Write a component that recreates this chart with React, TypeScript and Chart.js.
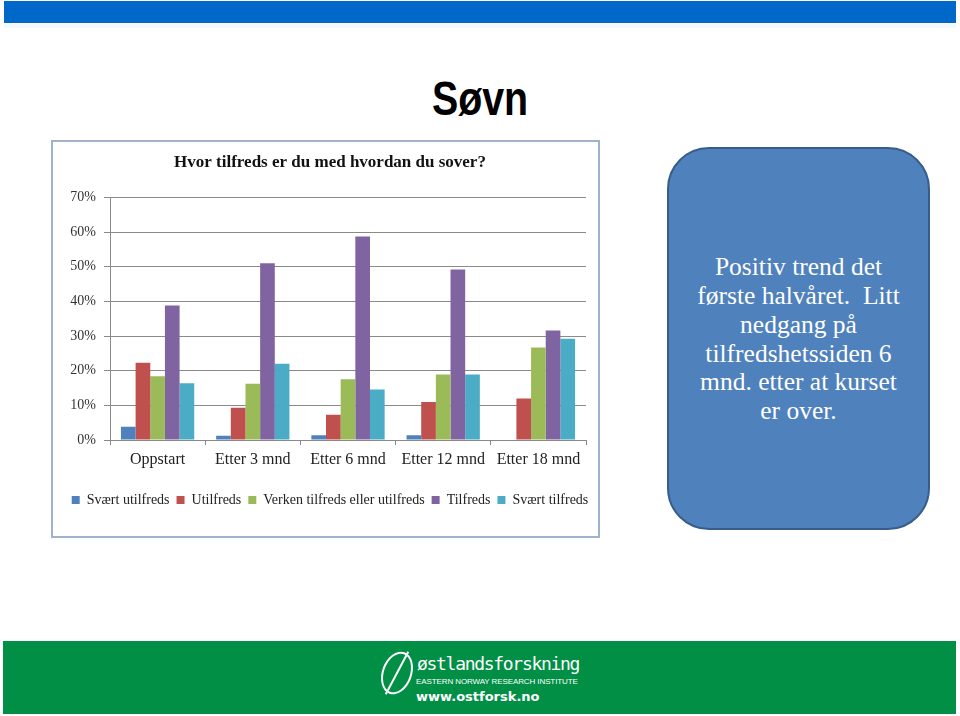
import React, { useEffect, useRef } from "react";
import { Chart, registerables } from "chart.js";

Chart.register(...registerables);

const categories = ["Oppstart", "Etter 3 mnd", "Etter 6 mnd", "Etter 12 mnd", "Etter 18 mnd"];
const seriesNames = [
  "Svært utilfreds",
  "Utilfreds",
  "Verken tilfreds eller utilfreds",
  "Tilfreds",
  "Svært tilfreds",
];
const sværtUtilfreds = [3.8, 1.2, 1.4, 1.4, 0];
const utilfreds = [22.3, 9.3, 7.3, 11.0, 12.0];
const verken = [18.4, 16.2, 17.5, 18.9, 26.7];
const tilfreds = [38.8, 51.0, 58.7, 49.2, 31.6];
const sværtTilfreds = [16.4, 22.0, 14.6, 18.9, 29.2];
const seriesColors = ["#4F81BD", "#C0504D", "#9BBB59", "#8064A2", "#4BACC6"];
const yTicks = [0, 10, 20, 30, 40, 50, 60, 70];
const chartTitle = "Hvor tilfreds er du med hvordan du sover?";

const SERIF = "'Liberation Serif', 'Times New Roman', serif";

function BarChart() {
  const ref = useRef<HTMLCanvasElement | null>(null);
  useEffect(() => {
    if (!ref.current) return;
    const values = [sværtUtilfreds, utilfreds, verken, tilfreds, sværtTilfreds];
    const grid = "#8A8A8A";
    const chart = new Chart(ref.current, {
      type: "bar",
      data: {
        labels: categories,
        datasets: values.map((v, i) => ({
          label: seriesNames[i],
          data: v,
          backgroundColor: seriesColors[i],
          borderWidth: 0,
          categoryPercentage: 0.77,
          barPercentage: 1.0,
        })),
      },
      options: {
        animation: false,
        responsive: false,
        maintainAspectRatio: false,
        layout: { padding: { top: 5, left: 9, right: 0, bottom: 19 } },
        plugins: {
          tooltip: { enabled: false },
          title: {
            display: true,
            text: chartTitle,
            color: "#111",
            font: { family: SERIF, size: 17, weight: "bold" },
            padding: { top: 5, bottom: 25 },
          },
          legend: {
            position: "bottom",
            labels: {
              boxWidth: 8,
              boxHeight: 8,
              padding: 7,
              color: "#222",
              font: { family: SERIF, size: 14 },
            },
          },
        },
        scales: {
          x: {
            grid: {
              offset: true,
              drawOnChartArea: false,
              drawTicks: true,
              tickLength: 5,
              color: grid,
            },
            border: { display: true, color: grid, width: 1 },
            ticks: {
              color: "#222",
              padding: 5,
              maxRotation: 0,
              font: { family: SERIF, size: 16 },
            },
            afterFit: (s: any) => {
              s.height = 46;
            },
          },
          y: {
            min: 0,
            max: 70,
            afterBuildTicks: (s: any) => {
              s.ticks = yTicks.map((v) => ({ value: v }));
            },
            grid: { color: grid, drawTicks: true, tickLength: 6 },
            border: { display: true, color: grid, width: 1 },
            ticks: {
              color: "#333",
              padding: 8,
              font: { family: SERIF, size: 14 },
              callback: (v: any) => `${v}%`,
            },
            afterFit: (s: any) => {
              s.width = 48;
            },
          },
          spacer: {
            type: "linear",
            position: "right",
            display: true,
            grid: { display: false },
            border: { display: false },
            ticks: { display: false },
            afterFit: (s: any) => {
              s.width = 12;
            },
          },
        },
      },
    });
    return () => chart.destroy();
  }, []);
  return <canvas ref={ref} width={545} height={394} style={{ display: "block" }} />;
}

export default function App() {
  return (
    <div
      style={{
        position: "fixed",
        left: 0,
        top: 0,
        width: 960,
        height: 716,
        background: "#fff",
        overflow: "hidden",
      }}
    >
      {/* top blue bar */}
      <div style={{ position: "absolute", left: 4, top: 1, width: 952, height: 22, background: "#0068C9" }} />
      <div style={{ position: "absolute", left: 4, top: 24, width: 952, height: 4, background: "#F2FAFC" }} />

      {/* slide title */}
      <div
        style={{
          position: "absolute",
          left: 380,
          top: 72,
          width: 200,
          textAlign: "center",
          fontFamily: "'Liberation Sans', Arial, sans-serif",
          fontWeight: "bold",
          fontSize: 48,
          lineHeight: "54px",
          color: "#000",
          transform: "scaleX(0.82)",
        }}
      >
        Søvn
      </div>

      {/* chart frame */}
      <div
        style={{
          position: "absolute",
          left: 51,
          top: 140,
          width: 545,
          height: 394,
          border: "2px solid #9FB3CF",
          background: "#fff",
        }}
      >
        <BarChart />
      </div>

      {/* rounded text box */}
      <div
        style={{
          position: "absolute",
          left: 667,
          top: 147,
          width: 259,
          height: 379,
          background: "#4F81BD",
          border: "2px solid #385D8A",
          borderRadius: 42,
          display: "flex",
          alignItems: "center",
          justifyContent: "center",
          textAlign: "center",
          color: "#fff",
          fontFamily: SERIF,
          fontSize: 25.5,
          lineHeight: "28.7px",
        }}
      >
        <div style={{ marginTop: 2, whiteSpace: "nowrap" }}>
          Positiv trend det
          <br />
          første halvåret.&nbsp; Litt
          <br />
          nedgang på
          <br />
          tilfredshetssiden 6
          <br />
          mnd. etter at kurset
          <br />
          er over.
        </div>
      </div>

      {/* footer */}
      <div style={{ position: "absolute", left: 3, top: 641, width: 953, height: 73, background: "#008F45" }}>
        <div
          style={{
            position: "absolute",
            left: 379,
            top: 10,
            width: 26,
            height: 40,
            border: "2px solid #fff",
            borderRadius: "50%",
            transform: "rotate(20deg)",
          }}
        />
        <div
          style={{
            position: "absolute",
            left: 393,
            top: 8,
            width: 2,
            height: 48,
            background: "#fff",
            transform: "rotate(28deg)",
          }}
        />
        <div
          style={{
            position: "absolute",
            left: 414,
            top: 12,
            color: "#fff",
            fontFamily: "'DejaVu Sans Mono', monospace",
            fontSize: 18,
            lineHeight: "22px",
            letterSpacing: -1.3,
          }}
        >
          østlandsforskning
        </div>
        <div
          style={{
            position: "absolute",
            left: 413,
            top: 36,
            color: "#fff",
            fontFamily: "'Liberation Sans Narrow', 'Liberation Sans', Arial, sans-serif",
            fontSize: 8,
            lineHeight: "10px",
            letterSpacing: -0.1,
          }}
        >
          EASTERN NORWAY RESEARCH INSTITUTE
        </div>
        <div
          style={{
            position: "absolute",
            left: 413,
            top: 48,
            color: "#fff",
            fontFamily: "'DejaVu Sans', sans-serif",
            fontWeight: "bold",
            fontSize: 13,
            lineHeight: "16px",
          }}
        >
          www.ostforsk.no
        </div>
      </div>
    </div>
  );
}
